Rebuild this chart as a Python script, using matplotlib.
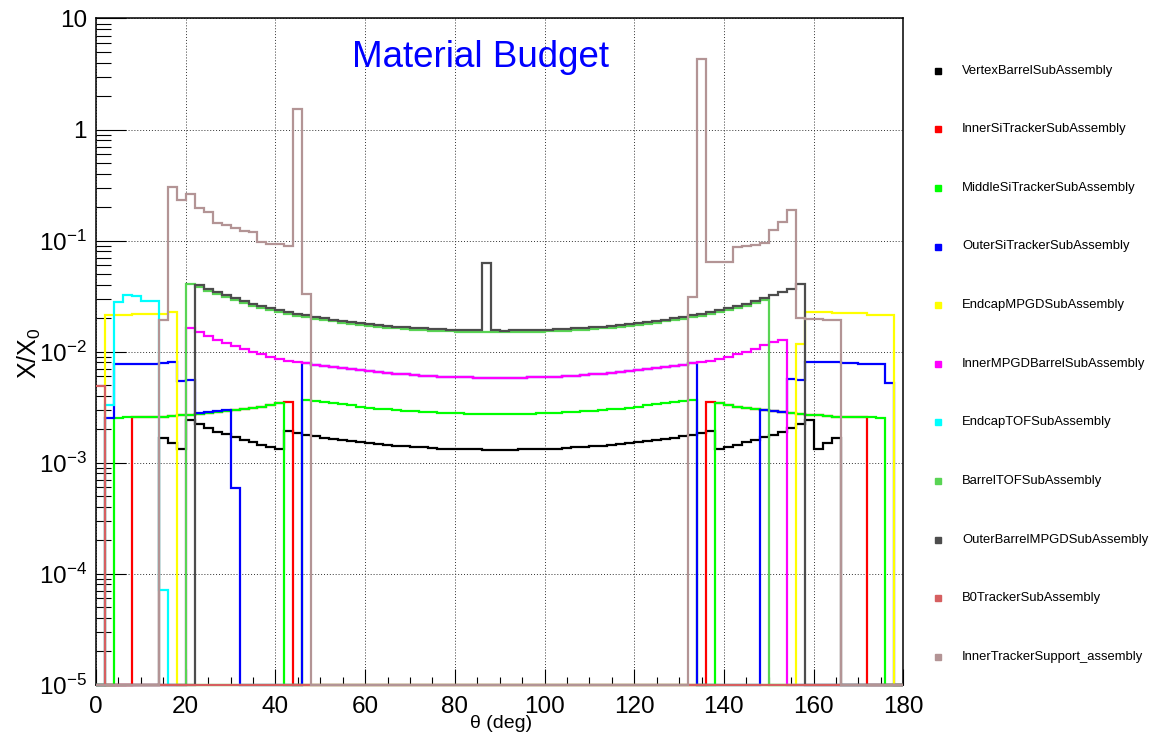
import numpy as np
import matplotlib.pyplot as plt
from matplotlib.lines import Line2D
from matplotlib.ticker import FixedLocator, FuncFormatter, MultipleLocator

plt.rcParams['font.family'] = ['Liberation Sans', 'DejaVu Sans']
plt.rcParams['mathtext.fontset'] = 'custom'
plt.rcParams['mathtext.rm'] = 'Liberation Sans'
plt.rcParams['mathtext.it'] = 'Liberation Sans:italic'

# theta scan in 2 degree bins, X/X0 values given in units of 1e-3,
# each list starts at the bin edge given in *_start (zero elsewhere)
bin_width = 2
theta_max = 180

vertex_start = 14
vertex = [1.65, 1.51, 1.32, 2.42, 2.22, 2.03, 1.88, 1.81, 1.69, 1.60, 1.52, 1.45, 1.37, 1.32,
          1.92, 1.86, 1.79, 1.73, 1.68, 1.64, 1.60, 1.56, 1.53, 1.50, 1.47, 1.44, 1.42, 1.40,
          1.39, 1.37, 1.36, 1.34, 1.33, 1.33, 1.32, 1.32, 1.31, 1.31,
          1.31, 1.31, 1.32, 1.32, 1.33, 1.33, 1.34, 1.36, 1.37, 1.39, 1.40, 1.42, 1.44, 1.47,
          1.50, 1.53, 1.56, 1.60, 1.64, 1.68, 1.73, 1.79, 1.86, 1.92,
          1.32, 1.37, 1.45, 1.52, 1.60, 1.69, 1.79, 1.88, 2.03, 2.22, 2.42, 1.32, 1.51, 1.65]

inner_si_start = 8
inner_si = [2.57, 2.59, 2.59, 2.60, 2.62, 2.66, 2.71, 2.75, 2.81, 2.85, 2.93, 2.96, 3.03,
            3.09, 3.19, 3.30, 3.42, 3.48] + [0] * 46 + \
           [3.48, 3.42, 3.30, 3.19, 3.09, 3.03, 2.96, 2.93, 2.85, 2.81, 2.75, 2.71, 2.66,
            2.62, 2.60, 2.59, 2.59, 2.57]

middle_si_start = 4
middle_si = [2.53, 2.55, 2.57, 2.59, 2.59, 2.60, 2.62, 2.66, 2.71, 2.75, 2.81, 2.85, 2.93,
             2.96, 3.03, 3.09, 3.19, 3.30, 3.42, 0, 0,
             3.66, 3.59, 3.53, 3.43, 3.35, 3.27, 3.20, 3.13, 3.07, 3.02, 2.98, 2.93, 2.90,
             2.87, 2.84, 2.81, 2.79, 2.77, 2.76, 2.75, 2.74, 2.74,
             2.74, 2.74, 2.75, 2.76, 2.77, 2.79, 2.81, 2.84, 2.87, 2.90, 2.93, 2.98, 3.02,
             3.07, 3.13, 3.20, 3.27, 3.35, 3.43, 3.53, 3.59, 3.66, 0, 0,
             3.42, 3.30, 3.19, 3.09, 3.03, 2.96, 2.93, 2.85, 2.81, 2.75, 2.71, 2.66, 2.62,
             2.60, 2.59, 2.59, 2.57, 2.55, 2.53]

outer_si_start = 2
outer_si = [2.53, 7.66, 7.70, 7.75, 7.80, 7.80, 7.85, 8.05, 5.42, 5.53, 2.77, 2.83, 2.89,
            2.95, 0.593] + [0] * 7 + \
           [7.85, 7.65, 7.48, 7.27, 7.09, 6.93, 6.78, 6.64, 6.52, 6.41, 6.31, 6.22, 6.15,
            6.08, 6.01, 5.96, 5.92, 5.88, 5.86, 5.83, 5.82, 5.81,
            5.81, 5.82, 5.83, 5.86, 5.88, 5.92, 5.96, 6.01, 6.08, 6.15, 6.22, 6.31, 6.41,
            6.52, 6.64, 6.78, 6.93, 7.09, 7.27, 7.48, 7.65, 7.85] + [0] * 7 + \
           [2.97, 2.93, 2.87, 5.61, 5.54, 8.10, 8.05, 8.00, 8.00, 7.90, 7.90, 7.80, 7.80,
            7.66, 5.16]

endcap_mpgd_start = 2
endcap_mpgd = [21.3, 21.3, 21.4, 21.6, 21.8, 21.8, 21.9, 22.6] + [0] * 69 + \
              [11.7, 22.9, 22.9, 22.9, 22.1, 22.1, 22.1, 22.1, 21.3, 21.3, 21.3]

inner_mpgd_start = 20
inner_mpgd = [16.2, 14.9, 13.8, 12.7, 11.9, 11.2, 10.6, 10.0, 9.5, 9.0, 8.6, 8.3, 8.05,
              7.85, 7.65, 7.48, 7.27, 7.09, 6.93, 6.78, 6.64, 6.52, 6.41, 6.31, 6.22, 6.15,
              6.08, 6.01, 5.96, 5.92, 5.88, 5.86, 5.83, 5.82, 5.81,
              5.81, 5.82, 5.83, 5.86, 5.88, 5.92, 5.96, 6.01, 6.08, 6.15, 6.22, 6.31, 6.41,
              6.52, 6.64, 6.78, 6.93, 7.09, 7.27, 7.48, 7.65, 7.85,
              8.05, 8.3, 8.6, 9.0, 9.5, 10.0, 10.6, 11.4, 12.1, 12.7]

endcap_tof_start = 2
endcap_tof = [3.30, 27.7, 32.3, 31.8, 28.5, 28.5, 0.071]

barrel_tof_start = 20
barrel_tof = [40.8, 38.1, 35.3, 32.8, 30.7, 28.9, 27.4, 26.0, 24.7, 23.7, 22.7, 21.8, 21.1,
              20.4, 19.7, 19.2, 18.7, 18.2, 17.8, 17.4, 17.0, 16.7, 16.4, 16.2, 16.0, 15.8,
              15.6, 15.4, 15.3, 15.2, 15.1, 15.0, 15.0, 14.9, 14.9,
              14.9, 14.9, 15.0, 15.0, 15.1, 15.2, 15.3, 15.4, 15.6, 15.8, 16.0, 16.2, 16.4,
              16.7, 17.0, 17.4, 17.8, 18.2, 18.7, 19.2, 19.7, 20.4, 21.1, 21.8, 22.7, 23.7,
              24.7, 26.0, 27.4, 28.9]

outer_mpgd_start = 22
outer_mpgd = [39.7, 36.7, 34.1, 32.0, 30.1, 28.5, 27.0, 25.8, 24.6, 23.6, 22.7, 21.9, 21.2,
              20.5, 19.9, 19.4, 18.9, 18.5, 18.1, 17.7, 17.4, 17.1, 16.8, 16.6, 16.4, 16.2,
              16.0, 15.9, 15.8, 15.7, 15.6, 15.6, 62.2, 15.5,
              15.4, 15.5, 15.5, 15.6, 15.7, 15.8, 15.9, 16.0, 16.2, 16.4, 16.6, 16.8, 17.1,
              17.4, 17.7, 18.1, 18.5, 18.9, 19.4, 19.9, 20.5, 21.2, 21.9, 22.7, 23.6, 24.6,
              25.8, 27.0, 28.5, 30.1, 32.0, 34.1, 36.7, 40.5]

b0_start = 0
b0 = [4.9]

support_start = 14
support = [19.2, 305, 232, 262, 195, 182, 145, 137, 129, 123, 120, 96.8, 93.5, 92.5, 89.8,
           1520, 33.0] + [0] * 42 + \
          [30.7, 4310, 63.5, 63.5, 63.5, 86.7, 89.1, 91.0, 95.5, 124, 148, 188, 20.2, 19.8,
           19.8, 19.2, 19.2]

names = ['VertexBarrelSubAssembly', 'InnerSiTrackerSubAssembly', 'MiddleSiTrackerSubAssembly',
         'OuterSiTrackerSubAssembly', 'EndcapMPGDSubAssembly', 'InnerMPGDBarrelSubAssembly',
         'EndcapTOFSubAssembly', 'BarrelTOFSubAssembly', 'OuterBarrelMPGDSubAssembly',
         'B0TrackerSubAssembly', 'InnerTrackerSupport_assembly']
starts = [vertex_start, inner_si_start, middle_si_start, outer_si_start, endcap_mpgd_start,
          inner_mpgd_start, endcap_tof_start, barrel_tof_start, outer_mpgd_start, b0_start,
          support_start]
series = [vertex, inner_si, middle_si, outer_si, endcap_mpgd, inner_mpgd, endcap_tof,
          barrel_tof, outer_mpgd, b0, support]
colors = ['#000000', '#ff0000', '#00ff00', '#0000ff', '#ffff00', '#ff00ff', '#00ffff',
          '#59d454', '#4d4d4d', '#d65f60', '#b39495']

ymin, ymax = 1e-5, 10
edges = np.arange(0, theta_max + bin_width, bin_width)
nbins = len(edges) - 1

fig = plt.figure(figsize=(11.5, 7.37), dpi=100)
ax = fig.add_axes([0.0835, 0.0710, 0.702, 0.9039])

for start, vals, col in zip(starts, series, colors):
    h = np.zeros(nbins)
    i0 = start // bin_width
    h[i0:i0 + len(vals)] = np.array(vals) * 1e-3
    # empty bins drawn on the lower frame, like ROOT does in log scale
    h = np.where(h > 0, h, ymin)
    ax.stairs(h, edges, baseline=None, color=col, lw=1.6, zorder=3, clip_on=False)

ax.set_xlim(0, theta_max)
ax.set_yscale('log')
ax.set_ylim(ymin, ymax)

ax.xaxis.set_major_locator(MultipleLocator(20))
ax.xaxis.set_minor_locator(MultipleLocator(5))
ax.yaxis.set_major_locator(FixedLocator([1e-5, 1e-4, 1e-3, 1e-2, 1e-1, 1, 10]))
ax.yaxis.set_minor_locator(FixedLocator([m * 10.0 ** e for e in range(-5, 1) for m in range(2, 10)]))


def ylab(v, pos):
    if v >= 10:
        return '10'
    if v >= 1:
        return '1'
    return r'$10^{%d}$' % int(round(np.log10(v)))


ax.yaxis.set_major_formatter(FuncFormatter(ylab))
ax.yaxis.set_minor_formatter(FuncFormatter(lambda v, p: ''))

ax.tick_params(axis='both', which='both', direction='in', top=False, right=False,
               width=0.8, labelsize=17.5)
ax.tick_params(axis='y', which='major', length=21.6, pad=6.5)
ax.tick_params(axis='y', which='minor', length=10.8)
ax.tick_params(axis='x', which='major', length=11.5, pad=8)
ax.tick_params(axis='x', which='minor', length=5.8)

for s in ax.spines.values():
    s.set_linewidth(1.1)

ax.grid(True, which='major', color='#333333', lw=0.7, linestyle=(0, (1, 2)))

ax.set_xlabel('\u03b8 (deg)', fontsize=14, va='center')
ax.xaxis.set_label_coords(0.502, -0.058)
ax.set_ylabel('X/X$_0$', fontsize=18, va='center')
ax.yaxis.set_label_coords(-0.082, 0.497)

ax.text(0.476, 0.942, 'Material Budget', transform=ax.transAxes, color='#0000ff',
        fontsize=26.5, ha='center', va='center')

# legend outside the frame on the right
W, H = 1150, 737
for i, (name, col) in enumerate(zip(names, colors)):
    ypx = 70.7 + 58.6 * i
    fig.add_artist(Line2D([938 / W], [1 - ypx / H], transform=fig.transFigure, marker='s',
                          markersize=4.5, color=col, linestyle='none'))
    fig.text(962 / W, 1 - ypx / H, name, fontsize=9.4, va='center', ha='left')

fig.savefig('out.png', dpi=100)
